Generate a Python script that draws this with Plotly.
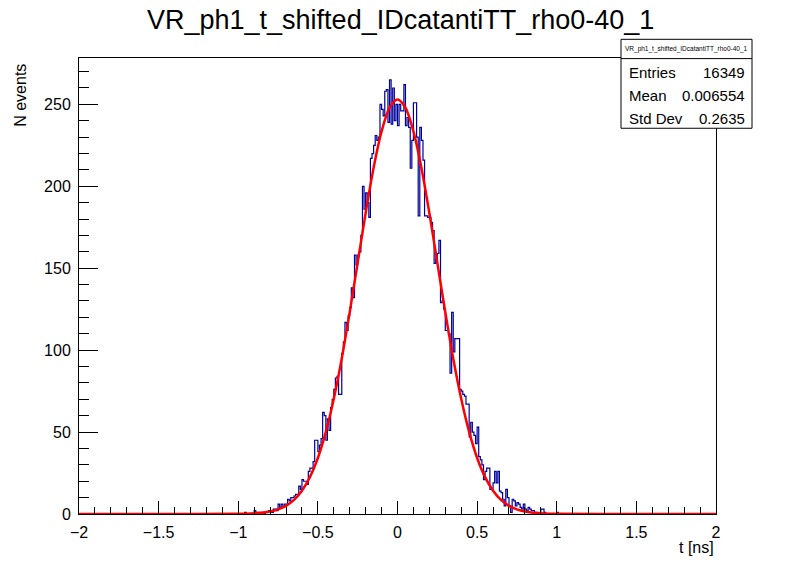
"""ROOT 스타일 히스토그램 + 가우시안 피트 재현 (VR_ph1_t_shifted)."""
import numpy as np
import plotly.graph_objects as go

# --- 데이터 -------------------------------------------------------------
# 400 bins, -2..2 ns (bin width 0.01). 아래 값은 -0.97 부터 시작하는 bin 내용
COUNTS_START = -0.97
counts = [
    0, 1, 0, 0, 0, 0, 0, 2, 1, 1,          # -0.97 ..
    1, 1, 1, 0, 1, 1, 2, 2, 1, 3,          # -0.87 ..
    3, 2, 6, 4, 6, 4, 6, 6, 9, 8,          # -0.77 ..
    10, 10, 11, 12, 12, 17, 15, 21, 20, 20,  # -0.67 ..
    18, 26, 28, 28, 32, 45, 45, 38, 42, 46,  # -0.57 ..
    62, 60, 45, 58, 51, 65, 70, 76, 83, 84,  # -0.47 ..
    73, 73, 98, 105, 117, 112, 121, 126, 138, 132,  # -0.37 ..
    158, 152, 158, 160, 170, 200, 186, 196, 190, 181,  # -0.27 ..
    217, 220, 225, 231, 228, 230, 250, 247, 243, 258,  # -0.17 ..
    259, 239, 265, 238, 260, 240, 250, 237, 250, 246,  # -0.07 ..
    246, 262, 237, 242, 236, 211, 228, 251, 251, 230,  # 0.03 ..
    182, 236, 228, 216, 182, 182, 181, 181, 178, 173,  # 0.13 ..
    153, 156, 159, 167, 129, 130, 125, 112, 112, 110,  # 0.23 ..
    86, 123, 99, 107, 107, 107, 76, 75, 73, 72,  # 0.33 ..
    67, 67, 47, 56, 50, 48, 43, 53, 35, 33,  # 0.43 ..
    30, 21, 26, 28, 28, 15, 15, 19, 26, 19,  # 0.53 ..
    26, 14, 13, 9, 5, 15, 10, 5, 1, 9,     # 0.63 ..
    8, 5, 7, 6, 4, 3, 6, 3, 2, 4,          # 0.73 ..
    3, 2, 2, 1, 1, 0, 0, 3, 3, 1,          # 0.83 ..
    0, 0, 0, 0, 0, 0, 0, 1, 0,             # 0.93 ..
]

# 피트 곡선 (그림에서 읽은 점, 0.05 간격)
fit_x = [-2.0, -1.5, -1.0, -0.95, -0.9, -0.85, -0.8, -0.75, -0.7, -0.65,
         -0.6, -0.55, -0.5, -0.45, -0.4, -0.35, -0.3, -0.25, -0.2, -0.15,
         -0.1, -0.05, 0.0, 0.05, 0.1, 0.15, 0.2, 0.25, 0.3, 0.35,
         0.4, 0.45, 0.5, 0.55, 0.6, 0.65, 0.7, 0.75, 0.8, 0.85,
         0.9, 0.95, 1.0, 1.5, 2.0]
fit_y = [0.0, 0.0, 0.1, 0.2, 0.4, 0.8, 1.5, 2.8, 5.0, 8.6,
         14.2, 22.5, 34.2, 50.1, 70.3, 94.9, 123.2, 153.4, 183.7, 211.3,
         233.5, 248.0, 253.0, 248.0, 233.5, 211.3, 183.7, 153.4, 123.2, 94.9,
         70.3, 50.1, 34.2, 22.5, 14.2, 8.6, 5.0, 2.8, 1.5, 0.8,
         0.4, 0.2, 0.1, 0.0, 0.0]

hist_title = "VR_ph1_t_shifted_IDcatantiTT_rho0-40_1"
stats_labels = ["Entries", "Mean", "Std Dev"]
stats_values = ["16349", "0.006554", "0.2635"]

# --- 레이아웃 상수 (px) ---------------------------------------------------
W, H = 796, 572
L, R, T, B = 79, 716, 57.7, 514
FONT = "Liberation Sans, Arial, Helvetica, sans-serif"
X_LO, X_HI, NBINS = -2.0, 2.0, 400
Y_MAX = 278.3


def _px(x: float) -> float:
    return (x - L) / (R - L)


def _py(y: float) -> float:
    return (B - y) / (B - T)


def _full_hist() -> tuple[np.ndarray, np.ndarray]:
    edges = np.linspace(X_LO, X_HI, NBINS + 1)
    full = np.zeros(NBINS)
    i0 = int(round((COUNTS_START - X_LO) / ((X_HI - X_LO) / NBINS)))
    full[i0:i0 + len(counts)] = counts
    # step 라인용: 마지막 edge 에서 값 반복
    return edges, np.append(full, full[-1])


edges, step_y = _full_hist()

fig = go.Figure()
fig.add_trace(go.Scatter(
    x=edges, y=step_y, mode="lines", line_shape="hv",
    line=dict(color="#000099", width=1.2),
    hoverinfo="skip", showlegend=False, name="hist",
))
fig.add_trace(go.Scatter(
    x=fit_x, y=fit_y, mode="lines", line_shape="spline",
    line=dict(color="#ff0000", width=2.5, smoothing=0.8),
    hoverinfo="skip", showlegend=False, name="fit",
))

axis_common = dict(
    showgrid=False, zeroline=False, showline=True, linecolor="black",
    linewidth=1, mirror=True, ticks="inside", tickcolor="black",
    tickfont=dict(family=FONT, size=16, color="black"),
)
fig.update_xaxes(
    range=[X_LO, X_HI], dtick=0.5, tick0=0, ticklen=13,
    minor=dict(dtick=0.1, ticklen=7, ticks="inside", tickcolor="black"),
    ticklabelstandoff=4,
    **axis_common,
)
fig.update_yaxes(
    range=[0, Y_MAX], dtick=50, tick0=0, ticklen=19,
    minor=dict(dtick=10, ticklen=10, ticks="inside", tickcolor="black"),
    ticklabelstandoff=4,
    **axis_common,
)

# 통계 박스
box_l, box_r, box_t, box_b, box_sep = 621, 752, 39, 128, 58.3
shapes = [
    dict(type="rect", xref="paper", yref="paper",
         x0=_px(box_l), x1=_px(box_r), y0=_py(box_b), y1=_py(box_t),
         line=dict(color="black", width=1), fillcolor="white", layer="above"),
    dict(type="line", xref="paper", yref="paper",
         x0=_px(box_l), x1=_px(box_r), y0=_py(box_sep), y1=_py(box_sep),
         line=dict(color="black", width=1), layer="above"),
]
annotations = [
    dict(text=hist_title, xref="paper", yref="paper",
         x=_px(400), y=_py(20), xanchor="center", yanchor="middle",
         showarrow=False, font=dict(family=FONT, size=27, color="black")),
    dict(text=hist_title, xref="paper", yref="paper",
         x=_px((box_l + box_r) / 2), y=_py(48.5), xanchor="center",
         yanchor="middle", showarrow=False,
         font=dict(family=FONT, size=6.5, color="black")),
    dict(text="t [ns]", xref="paper", yref="paper",
         x=_px(716), y=_py(548), xanchor="right", yanchor="middle",
         showarrow=False, font=dict(family=FONT, size=16, color="black")),
    dict(text="N events", xref="paper", yref="paper",
         x=_px(21), y=_py(62), xanchor="center", yanchor="top",
         textangle=-90, showarrow=False,
         font=dict(family=FONT, size=16, color="black")),
]
for i, (lab, val) in enumerate(zip(stats_labels, stats_values)):
    row_y = 72 + i * 23.3
    annotations.append(dict(
        text=lab, xref="paper", yref="paper", x=_px(627), y=_py(row_y),
        xanchor="left", yanchor="middle", showarrow=False,
        font=dict(family=FONT, size=15, color="black")))
    annotations.append(dict(
        text=val, xref="paper", yref="paper", x=_px(747), y=_py(row_y),
        xanchor="right", yanchor="middle", showarrow=False,
        font=dict(family=FONT, size=15, color="black")))

fig.update_layout(
    width=W, height=H, autosize=False,
    margin=dict(l=L, r=W - R, t=T, b=H - B, pad=0),
    paper_bgcolor="white", plot_bgcolor="white",
    shapes=shapes, annotations=annotations,
)

# 브라우저 기본 body 여백(8px) 제거, 모드바 숨김
fig.write_html(
    "out.html",
    config={"displayModeBar": False},
    post_script="document.body.style.margin='0px';",
)
